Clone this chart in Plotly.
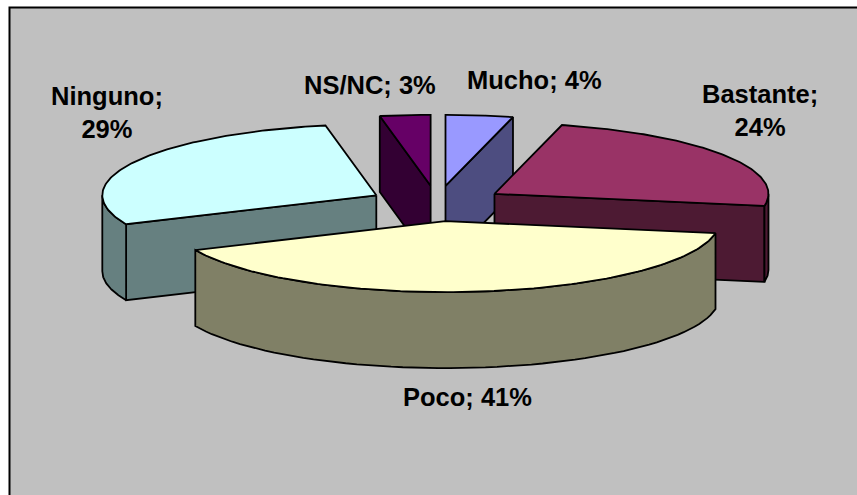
import numpy as np
import plotly.graph_objects as go

categories = ["Mucho", "Bastante", "Poco", "Ninguno", "NS/NC"]
values = [4, 24, 41, 29, 3]
top_colors = ["#9999FF", "#993366", "#FFFFCC", "#CCFFFF", "#660066"]
side_colors = ["#4D4D80", "#4D1A33", "#808066", "#668080", "#330033"]
label_texts = ["Mucho; 4%", "Bastante;<br>24%", "Poco; 41%", "Ninguno;<br>29%", "NS/NC; 3%"]
label_xy = [(534, 80), (760, 110), (467.5, 397), (107, 112), (370, 85)]
draw_order = ["NS/NC", "Mucho", "Ninguno", "Bastante", "Poco"]

CX, CY = 437.0, 203.5
RX, RY = 274.0, 71.0
EXPLODE = 0.25
DEPTH = 76.0
W, H = 857, 495

total = sum(values)
edges = np.cumsum([0] + values) / total * 360.0


def rim(t, ax, ay):
    r = np.radians(t)
    return ax + RX * np.sin(r), ay - RY * np.cos(r)


def poly(fig, xs, ys, color):
    fig.add_trace(go.Scatter(
        x=list(xs) + [xs[0]], y=list(ys) + [ys[0]], mode="lines", fill="toself",
        fillcolor=color, line=dict(color="black", width=1.8),
        hoverinfo="skip", showlegend=False))


fig = go.Figure()

for name in draw_order:
    i = categories.index(name)
    s, e = edges[i], edges[i + 1]
    mid = np.radians((s + e) / 2)
    ax = CX + EXPLODE * RX * np.sin(mid)
    ay = CY - EXPLODE * RY * np.cos(mid)
    side = side_colors[i]

    # cut faces that look toward the viewer
    for ang, sign in ((s, -1), (e, 1)):
        if sign * np.sin(np.radians(ang)) > 1e-6:
            px, py = rim(ang, ax, ay)
            poly(fig, [ax, px, px, ax], [ay, py, py + DEPTH, ay + DEPTH], side)

    # outer wall, front half of the rim only
    lo, hi = max(s, 90.0), min(e, 270.0)
    if hi > lo:
        t = np.linspace(lo, hi, 60)
        wx, wy = rim(t, ax, ay)
        poly(fig, np.r_[wx, wx[::-1]], np.r_[wy, wy[::-1] + DEPTH], side)

    # top surface
    t = np.linspace(s, e, 120)
    tx, ty = rim(t, ax, ay)
    poly(fig, np.r_[ax, tx], np.r_[ay, ty], top_colors[i])

for txt, (lx, ly) in zip(label_texts, label_xy):
    fig.add_annotation(x=lx, y=ly, text=f"<b>{txt}</b>", showarrow=False,
                       font=dict(family="Liberation Sans", size=25.5, color="black"),
                       align="center", xanchor="center", yanchor="middle")

fig.add_shape(type="rect", x0=9.5, y0=7.5, x1=W + 20, y1=H + 20, layer="below",
              fillcolor="#C0C0C0", line=dict(color="black", width=2))

fig.update_xaxes(range=[0, W], visible=False, fixedrange=True)
fig.update_yaxes(range=[H, 0], visible=False, fixedrange=True)
fig.update_layout(width=W, height=H, margin=dict(l=0, r=0, t=0, b=0),
                  paper_bgcolor="white", plot_bgcolor="white", showlegend=False)

fig.write_html("out.html", config={"displayModeBar": False},
               post_script="document.body.style.margin='0';document.body.style.overflow='hidden';")
